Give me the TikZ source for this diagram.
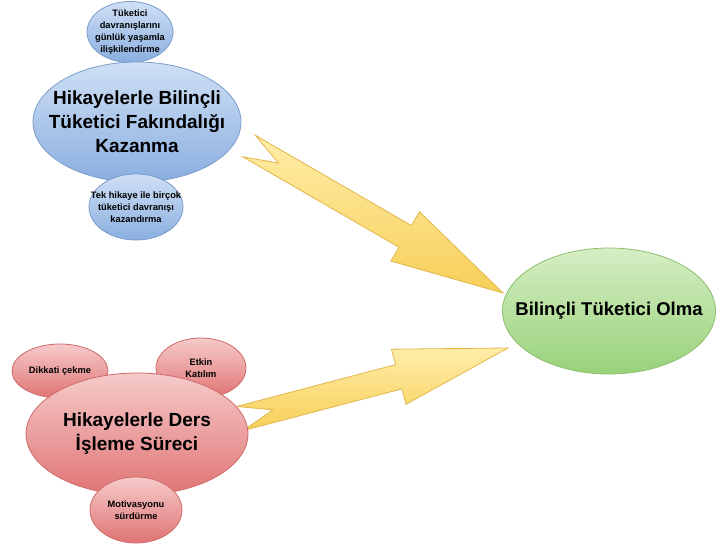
\documentclass[tikz,border=0pt]{standalone}
\usepackage{fontspec}
\setmainfont{Liberation Sans}
\usetikzlibrary{calc,shapes.geometric}
\definecolor{bluetop}{HTML}{CFE0F5}
\definecolor{bluebot}{HTML}{8AAEE0}
\definecolor{blueline}{HTML}{7A9CCB}
\definecolor{redtop}{HTML}{F6CACA}
\definecolor{redbot}{HTML}{E07474}
\definecolor{redline}{HTML}{CF6A6A}
\definecolor{greentop}{HTML}{D6EEC4}
\definecolor{greenbot}{HTML}{98D27A}
\definecolor{greenline}{HTML}{8DBE6F}
\definecolor{yeltop}{HTML}{FFEDA8}
\definecolor{yelbot}{HTML}{F7CF58}
\definecolor{yelline}{HTML}{E2B64A}
\tikzset{
  bub/.style={ellipse, line width=0.8pt, inner sep=0pt},
  bluebub/.style={bub, draw=blueline, top color=bluetop, bottom color=bluebot},
  redbub/.style={bub, draw=redline, top color=redtop, bottom color=redbot},
  greenbub/.style={bub, draw=greenline, top color=greentop, bottom color=greenbot},
  arrowsty/.style={draw=yelline, line width=0.8pt, top color=yeltop, bottom color=yelbot, line join=miter},
  bigtxt/.style={align=center, inner sep=0pt, font=\fontsize{19}{24}\selectfont\bfseries},
  smalltxt/.style={align=center, inner sep=0pt, font=\fontsize{9.3}{12}\selectfont\bfseries},
  greentxt/.style={align=center, inner sep=0pt, font=\fontsize{18.5}{22}\selectfont\bfseries},
}
\newcommand\yarrow[2]{%
  \coordinate (#1-b) at ($(#2)!113pt!(#1)$);
  \coordinate (#1-n) at ($(#1)!34pt!(#2)$);
  \path[arrowsty] ($(#1)!12.5pt!90:(#2)$) -- ($(#1-b)!12.5pt!-90:(#1)$) -- ($(#1-b)!28.5pt!-90:(#1)$) -- (#2) -- ($(#1-b)!28.5pt!90:(#1)$) -- ($(#1-b)!12.5pt!90:(#1)$) -- ($(#1)!12.5pt!-90:(#2)$) -- (#1-n) -- cycle;
}
\begin{document}
\begin{tikzpicture}[x=1pt,y=-1pt]
\useasboundingbox (0,0) rectangle (716,549);
% arrows
\coordinate (t1) at (249,146);
\coordinate (h1) at (503,293);
\coordinate (t2) at (240,418.5);
\coordinate (h2) at (508,348);
\yarrow{t1}{h1}
\yarrow{t2}{h2}
% blue group
\node[bluebub, minimum width=86pt, minimum height=61pt] (b1) at (130,32) {};
\node[smalltxt] (b1t) at (b1) {Tüketici\\davranışlarını\\günlük yaşamla\\ilişkilendirme};
\node[bluebub, minimum width=208pt, minimum height=120pt] (b0) at (137,122) {};
\node[bigtxt] (b0t) at (b0) {Hikayelerle Bilinçli\\Tüketici Fakındalığı\\Kazanma};
\node[bluebub, minimum width=94pt, minimum height=66pt] (b2) at (136,207) {};
\node[smalltxt] (b2t) at (b2) {Tek hikaye ile birçok\\tüketici davranışı\\kazandırma};
% red group
\node[redbub, minimum width=96pt, minimum height=54pt] (r1) at (60,371) {};
\node[smalltxt] (r1t) at (r1) {Dikkati çekme};
\node[redbub, minimum width=90pt, minimum height=60pt] (r2) at (201,368) {};
\node[smalltxt] (r2t) at (r2) {Etkin\\Katılım};
\node[redbub, minimum width=222pt, minimum height=122pt] (r0) at (137,434) {};
\node[bigtxt] (r0t) at (r0) {Hikayelerle Ders\\İşleme Süreci};
\node[redbub, minimum width=92pt, minimum height=66pt] (r3) at (136,510) {};
\node[smalltxt] (r3t) at (r3) {Motivasyonu\\sürdürme};
% green
\node[greenbub, minimum width=213pt, minimum height=126pt] (g) at (609,311) {};
\node[greentxt] (gt) at (g) {Bilinçli Tüketici Olma};
\end{tikzpicture}
\end{document}
